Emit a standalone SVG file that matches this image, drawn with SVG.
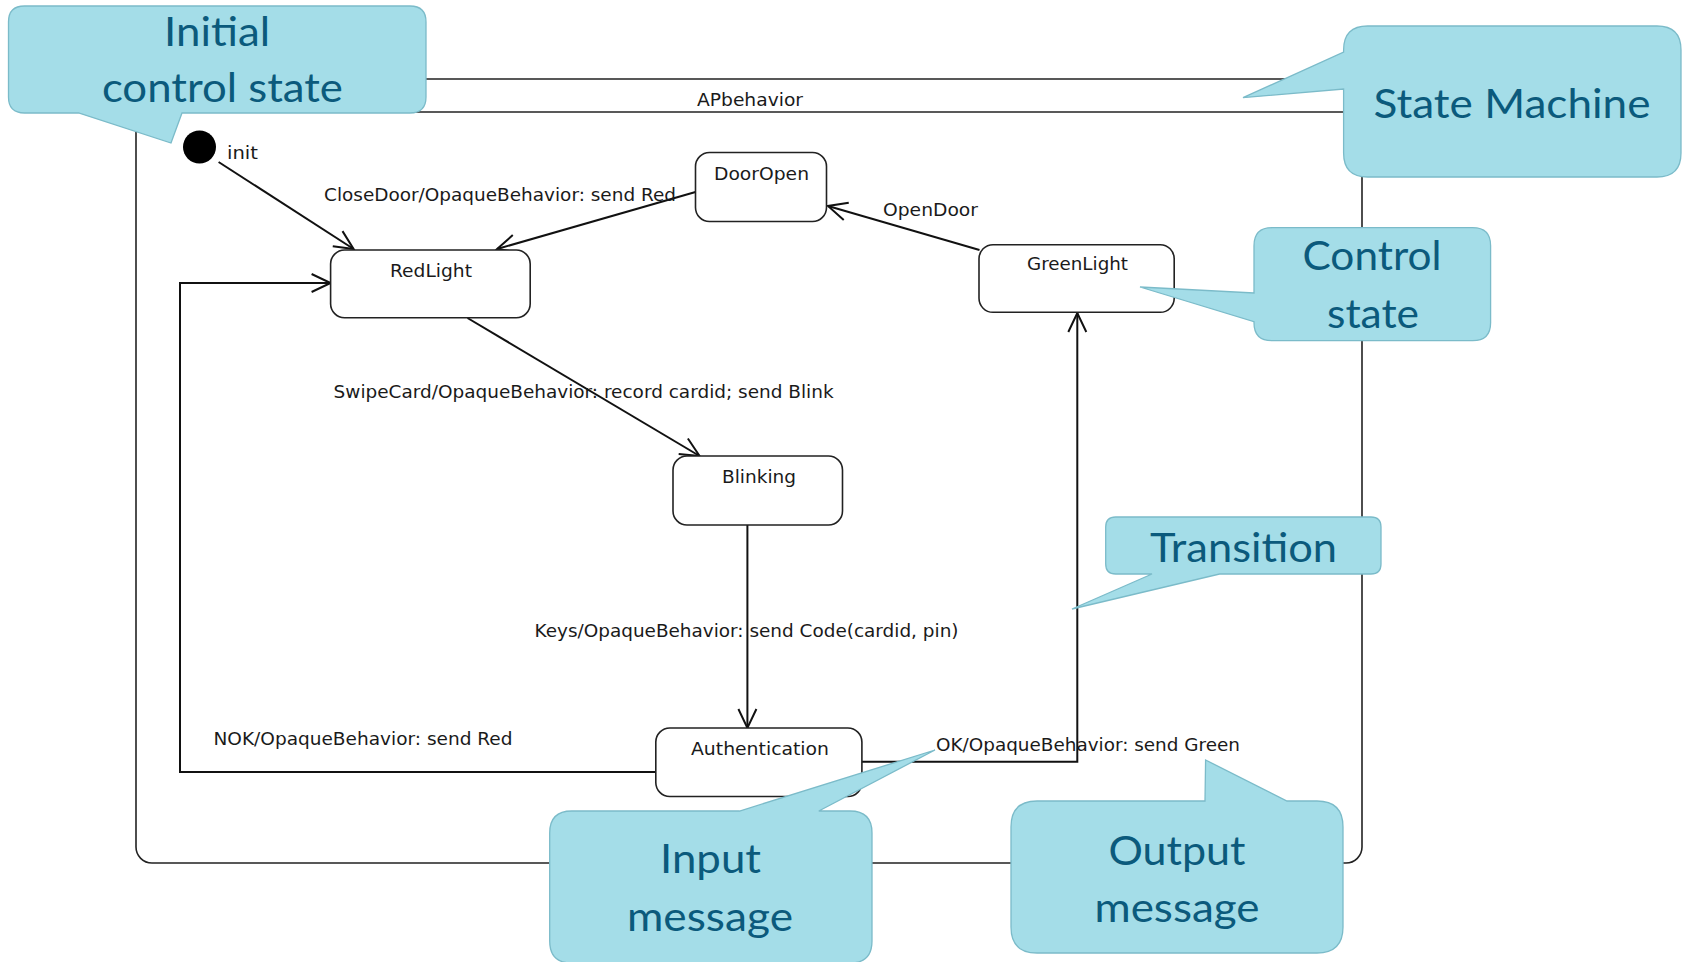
<svg xmlns="http://www.w3.org/2000/svg" width="1683" height="962" viewBox="0 0 1683 962">
<defs>
<marker id="arr" markerUnits="userSpaceOnUse" markerWidth="24" markerHeight="24" refX="21" refY="12" orient="auto">
<path d="M2,3 L21,12 L2,21" fill="none" stroke="#111" stroke-width="2"/>
</marker>
<style>
.node{fill:#fff;stroke:#222;stroke-width:1.6}
.lbl{font-family:"DejaVu Sans","Liberation Sans",sans-serif;font-size:17.5px;fill:#1a1a1a}
.conn{fill:none;stroke:#111;stroke-width:2}
.frame{fill:none;stroke:#222;stroke-width:1.6}
.call{fill:#A4DDE8;stroke:#7BBBC9;stroke-width:1.3}
.ct{font-family:Lato,"Open Sans",sans-serif;font-size:41px;fill:#0B5A7C;text-anchor:middle}
</style>
</defs>
<rect width="1683" height="962" fill="#fff"/>
<g id="frame">
<rect class="frame" x="136" y="79" width="1226" height="784" rx="16"/>
<line class="frame" x1="136" y1="112" x2="1362" y2="112"/>
<text class="lbl" x="697" y="105.5" textLength="106" lengthAdjust="spacingAndGlyphs">APbehavior</text>
</g>
<g id="connectors">
<path class="conn" d="M218.6,162 L353.6,249" marker-end="url(#arr)"/>
<path class="conn" d="M695.5,192 L497,249" marker-end="url(#arr)"/>
<path class="conn" d="M979.5,250 L828,206" marker-end="url(#arr)"/>
<path class="conn" d="M467.5,318 L699.6,456" marker-end="url(#arr)"/>
<path class="conn" d="M747.4,525 L747.4,728" marker-end="url(#arr)"/>
<path class="conn" d="M655.8,772 H180 V283 H330.6" marker-end="url(#arr)"/>
<path class="conn" d="M862,761.7 H1077.3 V313" marker-end="url(#arr)"/>
<text class="lbl" x="324" y="201" textLength="352" lengthAdjust="spacingAndGlyphs">CloseDoor/OpaqueBehavior: send Red</text>
<text class="lbl" x="883" y="216" textLength="95" lengthAdjust="spacingAndGlyphs">OpenDoor</text>
<text class="lbl" x="333.6" y="398" textLength="500" lengthAdjust="spacingAndGlyphs">SwipeCard/OpaqueBehavior: record cardid; send Blink</text>
<text class="lbl" x="534.5" y="637" textLength="424" lengthAdjust="spacingAndGlyphs">Keys/OpaqueBehavior: send Code(cardid, pin)</text>
<text class="lbl" x="213.5" y="745" textLength="299" lengthAdjust="spacingAndGlyphs">NOK/OpaqueBehavior: send Red</text>
<text class="lbl" x="936" y="751" textLength="304" lengthAdjust="spacingAndGlyphs">OK/OpaqueBehavior: send Green</text>
</g>
<g id="init">
<circle cx="199.5" cy="147" r="16.5" fill="#000"/>
<text class="lbl" x="227" y="159" textLength="31" lengthAdjust="spacingAndGlyphs">init</text>
</g>
<g id="DoorOpen">
<rect class="node" x="695.5" y="152.5" width="131" height="69" rx="14"/>
<text class="lbl" x="714" y="180" textLength="95" lengthAdjust="spacingAndGlyphs">DoorOpen</text>
</g>
<g id="RedLight">
<rect class="node" x="330.6" y="250" width="199.6" height="67.7" rx="14"/>
<text class="lbl" x="390" y="277" textLength="82" lengthAdjust="spacingAndGlyphs">RedLight</text>
</g>
<g id="GreenLight">
<rect class="node" x="979" y="244.7" width="195.2" height="67.6" rx="14"/>
<text class="lbl" x="1027" y="270" textLength="101" lengthAdjust="spacingAndGlyphs">GreenLight</text>
</g>
<g id="Blinking">
<rect class="node" x="673" y="456" width="169.5" height="69" rx="14"/>
<text class="lbl" x="722" y="483" textLength="74" lengthAdjust="spacingAndGlyphs">Blinking</text>
</g>
<g id="Authentication">
<rect class="node" x="655.8" y="728" width="206.1" height="68.5" rx="14"/>
<text class="lbl" x="691" y="755" textLength="138" lengthAdjust="spacingAndGlyphs">Authentication</text>
</g>
<g id="callout-initial">
<path class="call" d="M24.5,6 H410 Q426,6 426,22 V97 Q426,113 410,113 H182 L171,143 L78.6,113 H24.5 Q8.5,113 8.5,97 V22 Q8.5,6 24.5,6 Z"/>
<text class="ct" x="217" y="46" textLength="106" lengthAdjust="spacingAndGlyphs">Initial</text>
<text class="ct" x="222.4" y="102" textLength="241" lengthAdjust="spacingAndGlyphs">control state</text>
</g>
<g id="callout-statemachine">
<path class="call" d="M1367.6,26 H1657 Q1681,26 1681,50 V153 Q1681,177 1657,177 H1367.6 Q1343.6,177 1343.6,153 V89 L1243,97.7 L1343.6,52 V50 Q1343.6,26 1367.6,26 Z"/>
<text class="ct" x="1512" y="118" textLength="277" lengthAdjust="spacingAndGlyphs">State Machine</text>
</g>
<g id="callout-controlstate">
<path class="call" d="M1272,227.7 H1472.6 Q1490.6,227.7 1490.6,245.7 V322.7 Q1490.6,340.7 1472.6,340.7 H1272 Q1254,340.7 1254,322.7 V321.7 L1140,287 L1254,293 V245.7 Q1254,227.7 1272,227.7 Z"/>
<text class="ct" x="1372" y="270" textLength="139" lengthAdjust="spacingAndGlyphs">Control</text>
<text class="ct" x="1373" y="328" textLength="92" lengthAdjust="spacingAndGlyphs">state</text>
</g>
<g id="callout-transition">
<path class="call" d="M1115.7,517 H1371 Q1381,517 1381,527 V564 Q1381,574 1371,574 H1219.6 L1072,609 L1152,574 H1115.7 Q1105.7,574 1105.7,564 V527 Q1105.7,517 1115.7,517 Z"/>
<text class="ct" x="1243.5" y="562" textLength="187" lengthAdjust="spacingAndGlyphs">Transition</text>
</g>
<g id="callout-input">
<path class="call" d="M571.7,811 H739.6 L935,750 L818.8,811 H850 Q872,811 872,833 V941 Q872,963 850,963 H571.7 Q549.7,963 549.7,941 V833 Q549.7,811 571.7,811 Z"/>
<text class="ct" x="710.5" y="873" textLength="101" lengthAdjust="spacingAndGlyphs">Input</text>
<text class="ct" x="710" y="931" textLength="166" lengthAdjust="spacingAndGlyphs">message</text>
</g>
<g id="callout-output">
<path class="call" d="M1037,801 H1205 L1205.6,760 L1287,801 H1317 Q1343,801 1343,827 V927 Q1343,953 1317,953 H1037 Q1011,953 1011,927 V827 Q1011,801 1037,801 Z"/>
<text class="ct" x="1177" y="865" textLength="137" lengthAdjust="spacingAndGlyphs">Output</text>
<text class="ct" x="1177" y="922" textLength="165" lengthAdjust="spacingAndGlyphs">message</text>
</g>
</svg>
